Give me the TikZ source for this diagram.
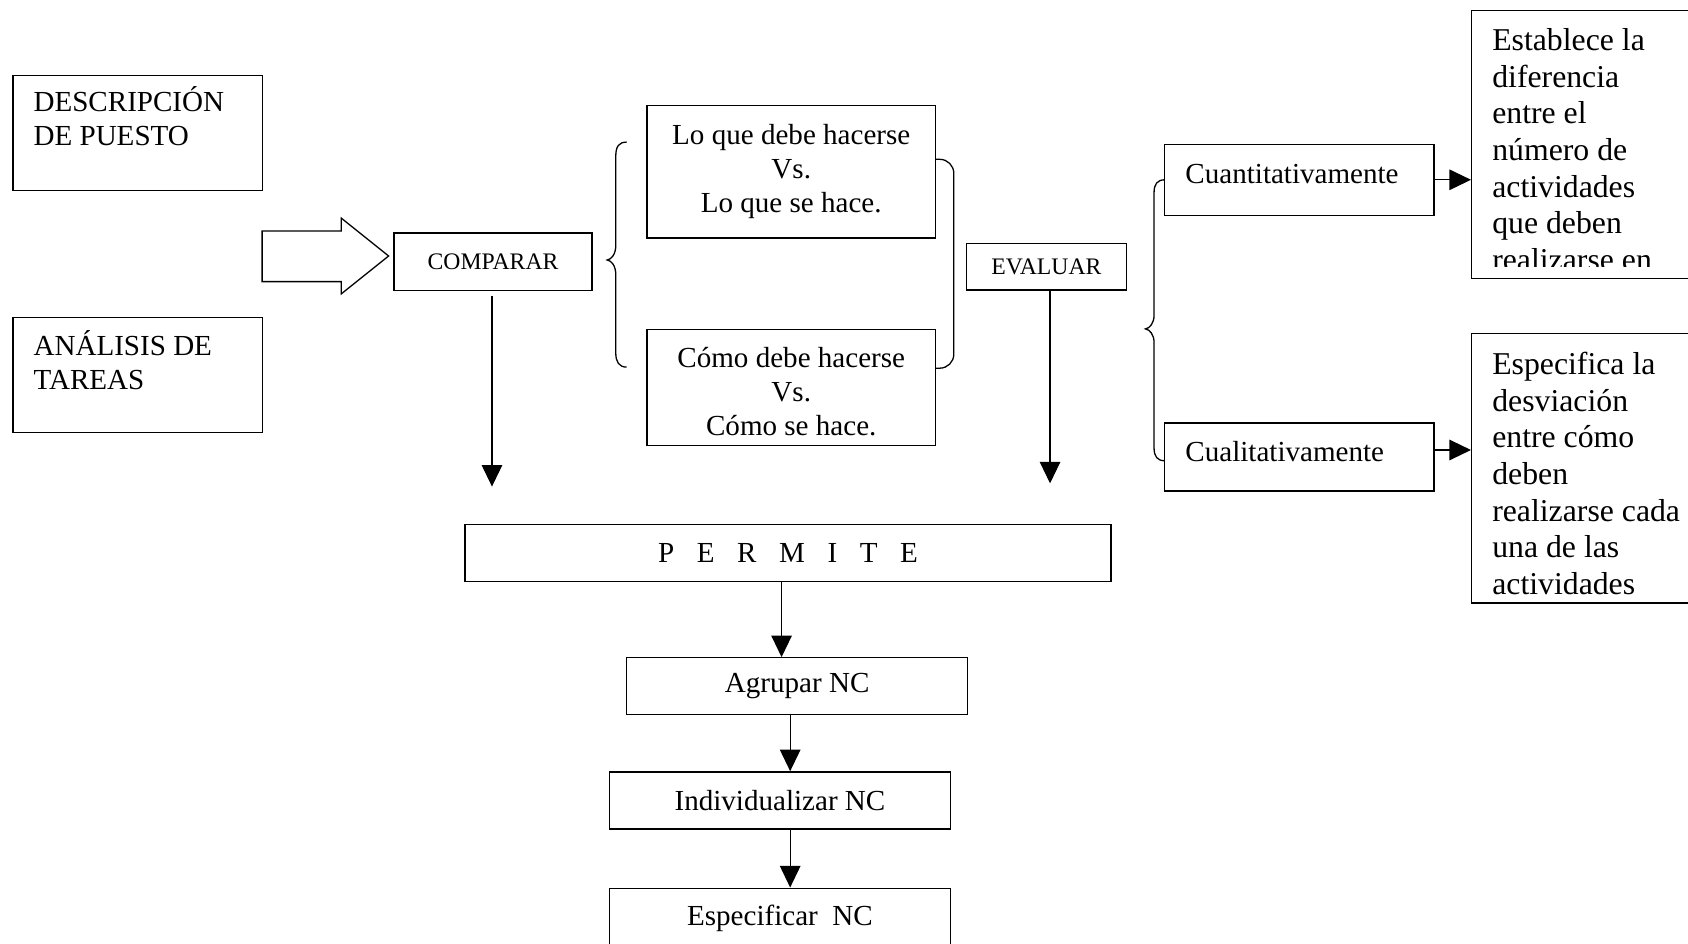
\documentclass[tikz,border=0pt]{standalone}
\usepackage{fontspec}
\setmainfont{Liberation Serif}
\usetikzlibrary{arrows.meta}
\begin{document}
\begin{tikzpicture}[x=1pt,y=-1pt,
  box/.style={draw, line width=1.2pt, inner sep=0pt},
  arr/.style={line width=1.2pt, -{Triangle[length=20pt,width=19pt]}},
  big/.style={font=\fontsize{27}{31.5}\selectfont},
  small/.style={font=\fontsize{22}{25}\selectfont},
  side/.style={font=\fontsize{29.5}{34}\selectfont, inner sep=0pt, align=left, anchor=base west},
  lbl/.style={inner sep=0pt, align=left, anchor=base west, big},
  shape line/.style={line width=1.2pt}
]
\clip (0,0) rectangle (1568,876);
\fill[white] (0,0) rectangle (1568,876);

% left boxes (anchor base west = baseline of last line)
\node[box, minimum width=232pt, minimum height=107pt] (desc) at (128,123.5) {};
\node[lbl] (desctxt) at (31,135.5) {DESCRIPCIÓN\\DE PUESTO};
\node[box, minimum width=232pt, minimum height=107pt] (anal) at (128,348.5) {};
\node[lbl] (analtxt) at (31,361.5) {ANÁLISIS DE\\TAREAS};

% block arrow
\draw[shape line] (243.5,214.6) -- (317,214.6) -- (317,202.6) -- (361,237.8)
  -- (317,273) -- (317,261.6) -- (243.5,261.6) -- cycle;

% comparar
\node[box, small, minimum width=184pt, minimum height=53.5pt] (comp) at (458,243.25) {COMPARAR};
\coordinate (c2) at (457,452);
\draw[arr] ([yshift=-4pt]comp.south -| c2) -- (c2);

% left brace
\draw[shape line] (582,132) .. controls (575,132) and (572,136) .. (572,145) -- (572,228)
  .. controls (572,236) and (568,241) .. (564,241.5)
  .. controls (568,242) and (572,247) .. (572,255) -- (572,328)
  .. controls (572,336) and (575,341) .. (582,341);

% compare boxes
\node[box, big, align=center, minimum width=268pt, minimum height=123pt] (lo) at (735,159.5)
  {Lo que debe hacerse\\Vs.\\Lo que se hace.};
\node[box, minimum width=268pt, minimum height=108pt] (como) at (735,360) {};
\node[big, align=center, inner sep=0pt] (comotxt) at (735,364)
  {Cómo debe hacerse\\Vs.\\Cómo se hace.};

% right bracket
\draw[shape line, rounded corners=13pt] (869,148) -- (886,148) -- (886,342) -- (869,342);

% evaluar
\node[box, small, minimum width=149pt, minimum height=43pt] (eval) at (972,248) {EVALUAR};
\coordinate (e2) at (975.4,449);
\draw[arr] (eval.south -| e2) -- (e2);

% right brace
\draw[shape line] (1082,167) .. controls (1075,167) and (1072,171) .. (1072,179) -- (1072,293)
  .. controls (1072,300) and (1068,305) .. (1064,305.5)
  .. controls (1068,306) and (1072,311) .. (1072,318) -- (1072,416)
  .. controls (1072,424) and (1075,428) .. (1082,428);

% cuant / cual
\node[box, minimum width=250pt, minimum height=66pt] (cuant) at (1207,167) {};
\node[lbl] (cuanttxt) at (1101,170) {Cuantitativamente};
\node[box, minimum width=250pt, minimum height=63pt] (cual) at (1207,424.5) {};
\node[lbl] (cualtxt) at (1101,429) {Cualitativamente};

% side boxes
\begin{scope}
\clip (1367,10) rectangle (1568,248);
\node[side] (estabtxt) at (1386,251) {Establece la\\diferencia\\entre el\\número de\\actividades\\que deben\\realizarse en};
\end{scope}
\node[box, minimum width=233pt, minimum height=249pt] (estab) at (1483.5,134.5) {};
\begin{scope}
\clip (1367,310) rectangle (1568,556);
\node[side] (espectxt) at (1386,552) {Especifica la\\desviación\\entre cómo\\deben\\realizarse cada\\una de las\\actividades};
\end{scope}
\node[box, minimum width=233pt, minimum height=250pt] (espec) at (1483.5,435) {};

\draw[arr] (cuant.east) -- (cuant.east -| estab.west);
\draw[arr] ([yshift=6.5pt]cual.east) -- ([yshift=6.5pt]cual.east -| espec.west);

% bottom chain
\node[box, big, minimum width=600pt, minimum height=53pt] (perm) at (732,513.5)
  {P\hspace{21pt}E\hspace{21pt}R\hspace{21pt}M\hspace{21pt}I\hspace{21pt}T\hspace{21pt}E};
\node[box, big, minimum width=317pt, minimum height=53pt] (agr) at (740.5,637.5) {Agrupar NC};
\node[box, big, minimum width=317pt, minimum height=53pt] (indiv) at (724.5,743.5) {Individualizar NC};
\node[box, big, minimum width=317pt, minimum height=56pt] (espnc) at (724.5,853) {Especificar\ \ NC};

\coordinate (ax) at (726,0);
\coordinate (bx) at (734,0);
\draw[arr] (perm.south -| ax) -- (agr.north -| ax);
\draw[arr] (agr.south -| bx) -- (indiv.north -| bx);
\draw[arr] (indiv.south -| bx) -- (espnc.north -| bx);
\end{tikzpicture}
\end{document}
